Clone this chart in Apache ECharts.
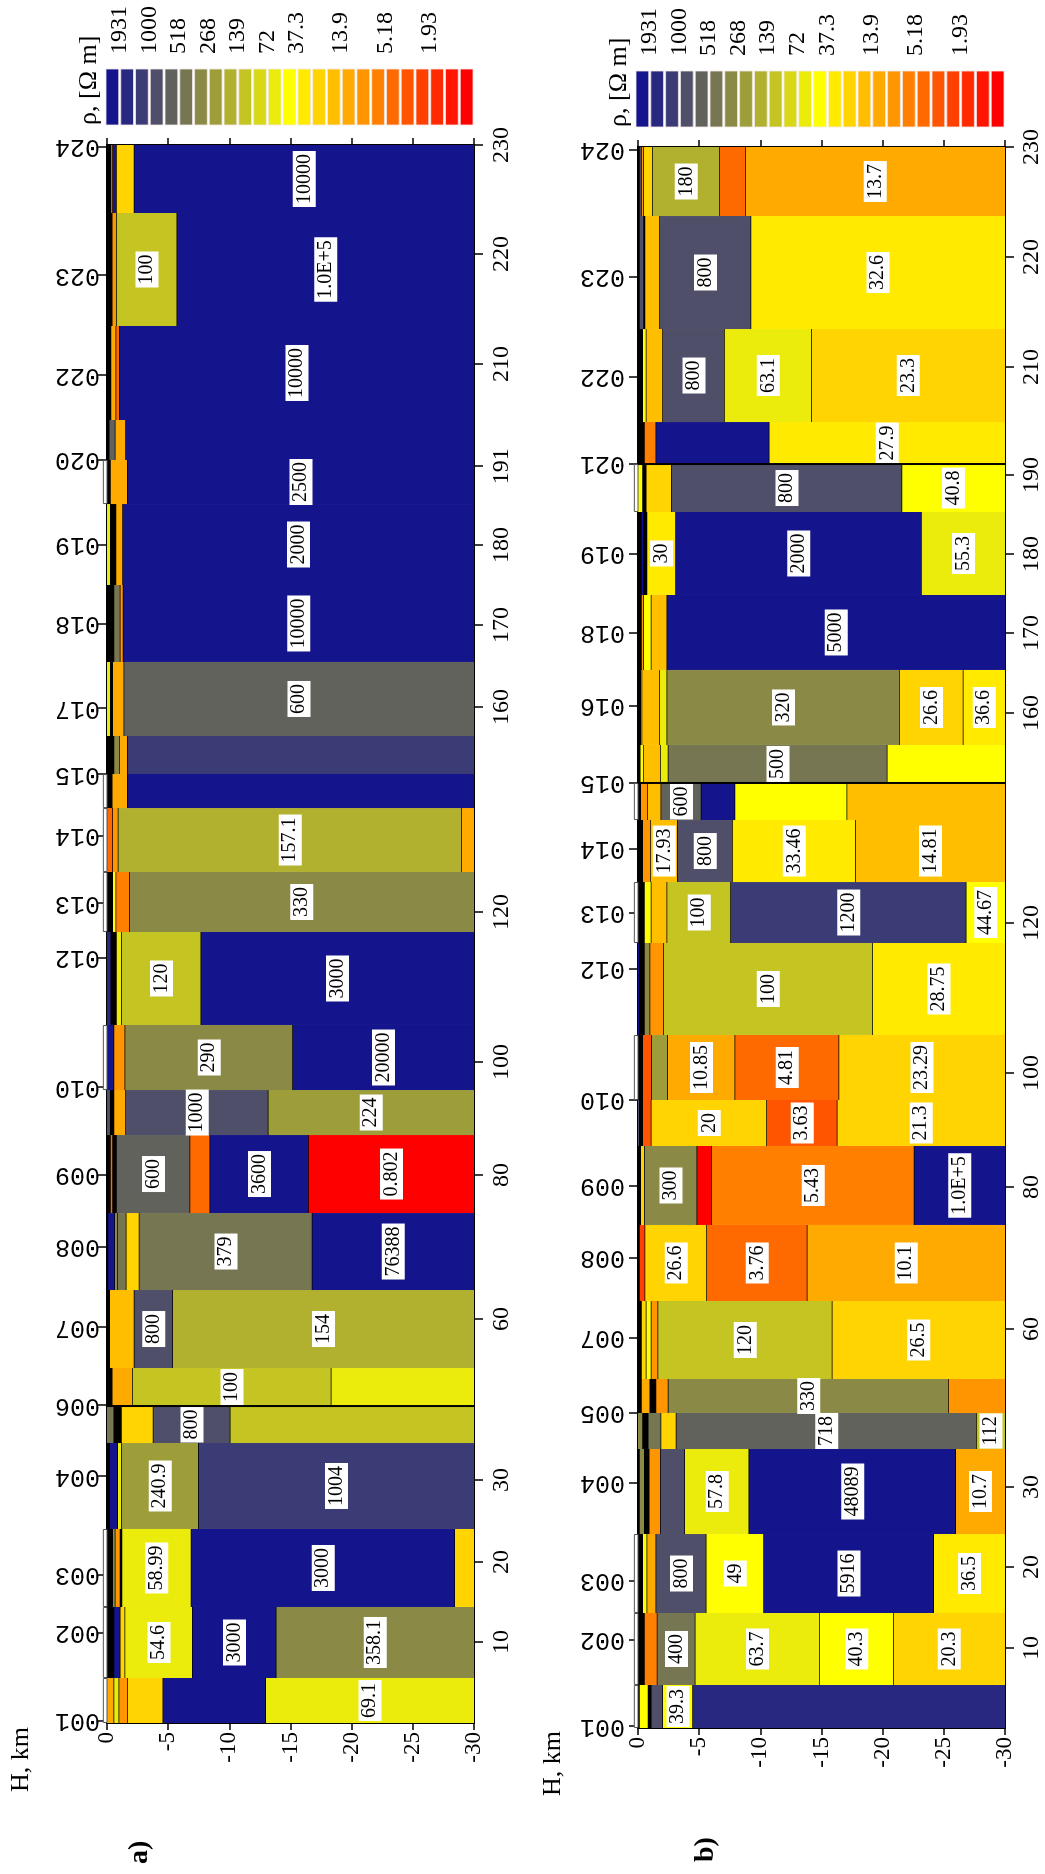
<!DOCTYPE html>
<html><head><meta charset="utf-8">
<script src="https://cdn.jsdelivr.net/npm/echarts@6/dist/echarts.min.js"></script>
<style>
html,body{margin:0;padding:0;width:1045px;height:1874px;overflow:hidden;background:#fff}
#c{position:absolute;left:0;top:0;width:1874px;height:1045px;transform-origin:0 0;transform:translateY(1874px) rotate(-90deg)}
</style></head><body><div id="c"></div>
<script>
// ---- colour scale (resistivity, Ohm m) ----
const cbColors = ['#14148c','#282880','#3b3b75','#4f4f69','#62625d','#767652','#8a8a46','#9d9d3a','#b1b12f','#c4c423','#d8d817','#ebeb0c','#ffff00','#ffea00','#ffd400','#ffbf00','#ffaa00','#ff9500','#ff8000','#ff6a00','#ff5500','#ff4000','#ff2a00','#ff1500','#ff0000'];
const cbLabels = ['1931','1000','518','268','139','72','37.3','13.9','5.18','1.93'];
const cbLabelPos = [1,3,5,7,9,11,13,16,19,22];

// ---- panel a ----
const distLabelsA = ['10','20','30','60','80','100','120','160','170','180','191','210','220','230'];
const distPosA = [11.81,23.47,35.42,58.9,79.87,96.34,118.2,148.08,160.03,171.69,183.19,198.07,214.11,230];
const profNamesA = ['001','002','003','004','006','007','008','009','010','012','013','014','015','017','018','019','020','022','023','024'];
const profPosA = [0.3,13.1,21.6,35.9,46.3,57.7,69.4,79.9,92.6,111.5,119.5,129.3,138.3,147.9,160.2,171.7,184.1,196.4,211.0,229.7];
const colEdgesA = [0,6.56,16.91,28.28,40.81,46.20,51.74,63.11,74.33,85.70,92.26,101.74,115.29,124.04,133.36,138.32,143.86,154.65,165.87,177.67,184.09,189.92,203.62,220.09,230];
const elevA = [0.3,0.3,0.3,0,0,0,0,0,0,0,0.3,0,0.3,0.3,0.3,0,0,0,0,0.3,0,0,0,0];
const sepA = [46.20];
// each layer: [bottom H (km), resistivity (0 = black), label]
const layersA = [
 [[-0.6,12,''],[-1.0,60,''],[-1.7,8,''],[-4.6,20,''],[-13.0,5000,''],[-30,69.1,'69.1']],
 [[-0.6,0,''],[-1.1,5000,''],[-1.5,20,''],[-7.0,54.6,'54.6'],[-13.85,3000,'3000'],[-30,358.1,'358.1']],
 [[-0.5,0,''],[-0.7,300,''],[-1.1,8,''],[-1.25,0,''],[-6.9,58.99,'58.99'],[-28.45,3000,'3000'],[-30,20,'']],
 [[-0.25,0,''],[-0.9,5000,''],[-1.2,60,''],[-7.5,240.9,'240.9'],[-30,1004,'1004']],
 [[-0.6,400,''],[-1.2,0,''],[-3.8,20,''],[-10.1,800,'800'],[-30,100,'']],
 [[-0.45,0,''],[-2.1,10,''],[-18.35,100,'100'],[-30,60,'']],
 [[-0.25,0,''],[-2.25,15,''],[-5.4,800,'800'],[-30,154,'154']],
 [[-0.1,0,''],[-0.65,5000,''],[-0.9,300,''],[-1.6,400,''],[-2.65,20,''],[-16.8,379,'379'],[-30,76388,'76388']],
 [[-0.3,0,''],[-0.5,4.5,''],[-0.8,0,''],[-6.8,600,'600'],[-8.45,4.5,''],[-16.5,3600,'3600'],[-30,0.802,'0.802']],
 [[-0.3,800,''],[-0.6,0,''],[-1.55,10,''],[-13.2,1000,'1000'],[-30,224,'224']],
 [[-0.6,5000,''],[-1.5,8,''],[-15.2,290,'290'],[-30,20000,'20000']],
 [[-0.35,1500,''],[-0.8,0,''],[-1.2,60,''],[-7.7,120,'120'],[-30,3000,'3000']],
 [[-0.5,0,''],[-0.75,45,''],[-1.85,6,''],[-30,330,'330']],
 [[-0.5,4.5,''],[-0.95,8,''],[-29.0,157.1,'157.1'],[-30,12,'']],
 [[-0.45,0,''],[-1.7,12,''],[-30,10000,'']],
 [[-0.6,0,''],[-1.05,300,''],[-1.7,12,''],[-30,1200,'']],
 [[-0.3,60,''],[-0.5,0,''],[-1.4,12,''],[-30,600,'600']],
 [[-0.6,0,''],[-1.1,400,''],[-1.35,8,''],[-30,10000,'10000']],
 [[-0.3,60,''],[-0.75,0,''],[-1.3,12,''],[-30,2000,'2000']],
 [[-0.3,0,''],[-1.7,12,''],[-30,2500,'2500']],
 [[-0.2,0,''],[-0.7,600,''],[-1.55,12,''],[-30,10000,'']],
 [[-0.35,0,''],[-0.75,12,''],[-1.05,4.5,''],[-30,10000,'10000']],
 [[-0.45,0,''],[-0.8,8,''],[-5.75,100,'100'],[-30,100000,'1.0E+5']],
 [[-0.35,0,''],[-0.5,8,''],[-0.8,5000,''],[-2.25,20,''],[-30,10000,'10000']]
];

// ---- panel b ----
const distLabelsB = ['10','20','30','60','80','100','120','160','170','180','190','210','220','230'];
const distPosB = [11.64,23.42,35.06,58.05,78.70,95.29,117.11,147.66,159.30,170.79,182.28,197.99,214.0,230];
const profNamesB = ['001','002','003','004','005','007','008','009','010','012','013','014','015','016','018','019','021','022','023','024'];
const profPosB = [0.2,12.8,21.39,35.64,45.83,56.74,68.37,78.85,91.36,110.42,118.56,127.88,137.48,148.68,159.30,170.79,183.88,196.54,211.09,229.56];
const colEdgesB = [0,6.26,16.73,28.22,40.59,45.83,50.77,62.12,73.18,84.67,91.36,100.82,114.20,123.07,132.09,137.48,143.01,153.92,164.83,176.90,183.88,189.99,203.52,219.96,230];
const elevB = [0.3,0.3,0.3,0,0,0,0,0,0,0,0.3,0,0.3,0,0.3,0,0,0,0,0.3,0,0,0,0];
const sepB = [137.48,183.88];
const layersB = [
 [[-0.15,0,''],[-0.85,45,''],[-1.1,0,''],[-2.05,800,''],[-4.5,39.3,'39.3'],[-30,1500,'']],
 [[-0.55,0,''],[-1.6,6,''],[-4.7,400,'400'],[-14.85,63.7,'63.7'],[-20.9,40.3,'40.3'],[-30,20.3,'20.3']],
 [[-0.4,0,''],[-0.75,45,''],[-1.5,12,''],[-5.6,800,'800'],[-10.3,49,'49'],[-24.2,5916,'5916'],[-30,36.5,'36.5']],
 [[-0.15,0,''],[-0.55,300,''],[-0.95,0,''],[-1.85,8,''],[-3.85,800,''],[-9.1,57.8,'57.8'],[-26.0,48089,'48089'],[-30,10.7,'10.7']],
 [[-0.4,300,''],[-0.85,0,''],[-1.9,400,''],[-3.15,20,''],[-27.7,718,'718'],[-30,112,'112']],
 [[-0.3,0,''],[-1.0,12,''],[-1.5,0,''],[-2.5,8,''],[-25.4,330,'330'],[-30,8,'']],
 [[-0.3,0,''],[-0.7,20,''],[-1.1,45,''],[-1.65,8,''],[-15.9,120,'120'],[-30,26.5,'26.5']],
 [[-0.15,0,''],[-0.6,2.2,''],[-5.65,26.6,'26.6'],[-13.85,3.76,'3.76'],[-30,10.1,'10.1']],
 [[-0.25,0,''],[-0.55,20,''],[-4.85,300,'300'],[-6.05,0.8,''],[-22.6,5.43,'5.43'],[-30,100000,'1.0E+5']],
 [[-0.15,800,''],[-0.4,0,''],[-1.1,3,''],[-10.55,20,'20'],[-16.3,3.63,'3.63'],[-30,21.3,'21.3']],
 [[-0.4,0,''],[-1.15,3,''],[-2.45,240,''],[-7.95,10.85,'10.85'],[-16.45,4.81,'4.81'],[-30,23.29,'23.29']],
 [[-0.15,5000,''],[-0.55,0,''],[-1.0,300,''],[-2.1,8,''],[-19.2,100,'100'],[-30,28.75,'28.75']],
 [[-0.55,0,''],[-1.1,45,''],[-2.4,15,''],[-7.6,100,'100'],[-26.85,1200,'1200'],[-30,44.67,'44.67']],
 [[-0.4,0,''],[-1.05,8,''],[-3.25,17.93,'17.93'],[-7.75,800,'800'],[-17.8,33.46,'33.46'],[-30,14.81,'14.81']],
 [[-0.25,0,''],[-0.8,8,''],[-1.9,15,''],[-5.2,600,'600'],[-7.95,5000,''],[-17.1,45,''],[-30,15,'']],
 [[-0.2,0,''],[-0.5,45,''],[-1.85,15,''],[-2.5,60,''],[-20.4,500,'500'],[-30,45,'']],
 [[-0.25,0,''],[-0.35,60,''],[-1.8,15,''],[-2.4,60,''],[-21.4,320,'320'],[-26.6,26.6,'26.6'],[-30,36.6,'36.6']],
 [[-0.3,0,''],[-0.5,8,''],[-1.1,45,''],[-2.4,15,''],[-30,5000,'5000']],
 [[-0.3,0,''],[-0.5,5000,''],[-0.75,0,''],[-3.1,30,'30'],[-23.2,2000,'2000'],[-30,55.3,'55.3']],
 [[-0.4,45,''],[-0.7,0,''],[-2.75,20,''],[-21.6,800,'800'],[-30,40.8,'40.8']],
 [[-0.55,0,''],[-1.5,6,''],[-10.75,5000,''],[-30,27.9,'27.9']],
 [[-0.4,0,''],[-0.7,45,''],[-2.05,15,''],[-7.1,800,'800'],[-14.2,63.1,'63.1'],[-30,23.3,'23.3']],
 [[-0.15,0,''],[-0.5,800,''],[-0.6,0,''],[-1.8,15,''],[-9.25,800,'800'],[-30,32.6,'32.6']],
 [[-0.15,0,''],[-0.3,800,''],[-0.5,8,''],[-1.2,20,''],[-6.7,180,'180'],[-8.8,4.5,''],[-30,13.7,'13.7']]
];

// ---- helpers ----
const SERIF = '"Liberation Serif","Times New Roman",serif';
function colorOf(r){
  if(r===0) return '#000000';
  let k = Math.floor((3.4299 - Math.log10(r))/0.1432);
  k = Math.max(0, Math.min(cbColors.length-1, k));
  return cbColors[k];
}
function buildItems(edges, layers){
  const out=[];
  layers.forEach((col,i)=>{
    let top=0;
    col.forEach(([bot,rho,lab])=>{ out.push({x0:edges[i],x1:edges[i+1],top:top,bot:bot,rho:rho,lab:lab}); top=bot; });
  });
  return out;
}
function buildElev(edges, elev){
  const out=[];
  elev.forEach((e,i)=>{ if(e>0) out.push([edges[i], edges[i+1], e]); });
  return out;
}
function lookup(pos, labels){
  return function(v){
    let bi=0, bd=1e9;
    pos.forEach((p,i)=>{ const d=Math.abs(p-v); if(d<bd){bd=d;bi=i;} });
    return labels[bi];
  };
}
function sectionRender(items){
  return function(params, api){
    const it = items[params.dataIndex];
    const p0 = api.coord([it.x0, it.top]);
    const p1 = api.coord([it.x1, it.bot]);
    const ch=[{type:'rect', shape:{x:p0[0], y:p0[1], width:p1[0]-p0[0], height:p1[1]-p0[1]}, style:{fill:colorOf(it.rho)}}];
    if(it.bot>-30){
      ch.push({type:'line', shape:{x1:p0[0], y1:p1[1], x2:p1[0], y2:p1[1]}, style:{stroke:'#000', lineWidth:1.5}});
    }
    if(it.lab){
      ch.push({type:'text', z2:50, style:{text:it.lab, x:(p0[0]+p1[0])/2, y:(p0[1]+p1[1])/2, align:'center', verticalAlign:'middle',
        font:'20px '+SERIF, fill:'#000', backgroundColor:'#fff', padding:[2,3,1,3]}});
    }
    return {type:'group', children:ch};
  };
}
function elevRender(params, api){
  const p0 = api.coord([api.value(0), api.value(2)]);
  const p1 = api.coord([api.value(1), 0]);
  return {type:'rect', shape:{x:p0[0]+0.5, y:p0[1], width:p1[0]-p0[0]-1, height:p1[1]-p0[1]}, style:{fill:'#fff', stroke:'#555', lineWidth:1}};
}
function sepRender(vals){
  return function(params, api){
    const v = vals[params.dataIndex];
    const a = api.coord([v,0]), b = api.coord([v,-30]);
    return {type:'line', z2:40, shape:{x1:a[0],y1:a[1],x2:b[0],y2:b[1]}, style:{stroke:'#000', lineWidth:2}};
  };
}
function cbRender(params, api){
  const i = params.dataIndex;
  const p0 = api.coord([0,i]), p1 = api.coord([1,i+1]);
  return {type:'rect', shape:{x:p0[0], y:p0[1]+1, width:p1[0]-p0[0], height:p1[1]-p0[1]-2}, style:{fill:cbColors[i], stroke:'#f2e8e8', lineWidth:0.8}};
}

const itemsA = buildItems(colEdgesA, layersA);
const itemsB = buildItems(colEdgesB, layersB);

const black = {color:'#000', width:2};
function distAxis(grid, pos, labels, margin){
  return {type:'value', gridIndex:grid, position:'bottom', min:0, max:230,
    axisLine:{show:true, onZero:false, lineStyle:black},
    axisTick:{show:true, customValues:pos, length:9, lineStyle:{color:'#000', width:1.5}},
    axisLabel:{customValues:pos, formatter:lookup(pos,labels), margin:margin, color:'#000', fontFamily:SERIF, fontSize:24},
    splitLine:{show:false}};
}
function profAxis(grid, pos, names, margin){
  return {type:'value', gridIndex:grid, position:'top', min:0, max:230,
    axisLine:{show:true, onZero:false, lineStyle:black},
    axisTick:{show:true, customValues:pos, length:9, lineStyle:{color:'#000', width:1.5}},
    axisLabel:{customValues:pos, formatter:lookup(pos,names), rotate:-90, align:'left', verticalAlign:'middle', margin:margin,
      color:'#000', fontFamily:'"Liberation Mono","Courier New",monospace', fontSize:25},
    splitLine:{show:false}};
}
function depthAxis(grid, side){
  return {type:'value', gridIndex:grid, position:side, min:-30, max:0, interval:5,
    axisLine:{show:true, onZero:false, lineStyle:black},
    axisTick:{show:true, length:7, lineStyle:{color:'#000', width:1.5}},
    axisLabel:{show:side==='left', margin:9, color:'#000', fontFamily:SERIF, fontSize:23},
    splitLine:{show:false}};
}
function cbAxis(grid){
  return {type:'value', gridIndex:grid, position:'right', min:0, max:25, inverse:true,
    axisLine:{show:false}, axisTick:{show:false}, splitLine:{show:false},
    axisLabel:{customValues:cbLabelPos, formatter:lookup(cbLabelPos,cbLabels), margin:15, color:'#000', fontFamily:SERIF, fontSize:24}};
}
function txt(x,y,s,font){ return {type:'text', left:x, top:y, style:{text:s, font:font, fill:'#000'}}; }

const option = {
  animation:false,
  backgroundColor:'#fff',
  grid:[
    {left:151, top:107, width:1578, height:367},
    {left:146, top:638, width:1581, height:367},
    {left:1749, top:105, width:56, height:369},
    {left:1747, top:635, width:56, height:370}
  ],
  xAxis:[
    distAxis(0, distPosA, distLabelsA, 16),
    profAxis(0, profPosA, profNamesA, 7),
    distAxis(1, distPosB, distLabelsB, 15),
    profAxis(1, profPosB, profNamesB, 13),
    {type:'value', gridIndex:2, min:0, max:1, show:false},
    {type:'value', gridIndex:3, min:0, max:1, show:false}
  ],
  yAxis:[
    depthAxis(0,'left'), depthAxis(0,'right'),
    depthAxis(1,'left'), depthAxis(1,'right'),
    cbAxis(2), cbAxis(3)
  ],
  graphic:[
    txt(82, 8, 'H, km', '26px '+SERIF),
    txt(78, 540, 'H, km', '26px '+SERIF),
    txt(10, 126, 'a)', 'bold 28px '+SERIF),
    txt(12, 692, 'b)', 'bold 28px '+SERIF),
    txt(1749, 76, 'ρ, [Ω m]', '26px '+SERIF),
    txt(1747, 606, 'ρ, [Ω m]', '26px '+SERIF)
  ],
  series:[
    {type:'custom', xAxisIndex:0, yAxisIndex:0, renderItem:sectionRender(itemsA), data:itemsA.map(it=>[it.x0,it.x1,it.top,it.bot]), encode:{x:[0,1], y:[2,3]}},
    {type:'custom', xAxisIndex:0, yAxisIndex:0, clip:false, renderItem:elevRender, data:buildElev(colEdgesA, elevA)},
    {type:'custom', xAxisIndex:0, yAxisIndex:0, z:3, renderItem:sepRender(sepA), data:sepA.map(v=>[v,0]), encode:{x:0,y:1}},
    {type:'custom', xAxisIndex:2, yAxisIndex:2, renderItem:sectionRender(itemsB), data:itemsB.map(it=>[it.x0,it.x1,it.top,it.bot]), encode:{x:[0,1], y:[2,3]}},
    {type:'custom', xAxisIndex:2, yAxisIndex:2, clip:false, renderItem:elevRender, data:buildElev(colEdgesB, elevB)},
    {type:'custom', xAxisIndex:2, yAxisIndex:2, z:3, renderItem:sepRender(sepB), data:sepB.map(v=>[v,0]), encode:{x:0,y:1}},
    {type:'custom', xAxisIndex:4, yAxisIndex:4, renderItem:cbRender, data:cbColors.map((c,i)=>[0.5,i+0.5])},
    {type:'custom', xAxisIndex:5, yAxisIndex:5, renderItem:cbRender, data:cbColors.map((c,i)=>[0.5,i+0.5])}
  ]
};
const chart = echarts.init(document.getElementById('c'), null, {renderer:'canvas'});
chart.setOption(option);
</script></body></html>
